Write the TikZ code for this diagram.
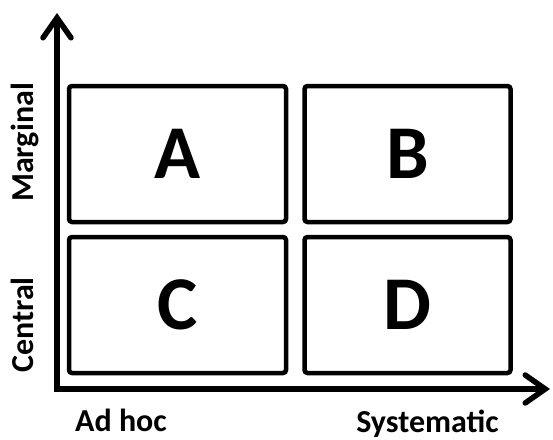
\documentclass[tikz,border=0pt]{standalone}
\usepackage{fontspec}
\setmainfont{Carlito}
\usetikzlibrary{arrows.meta}
\begin{document}
\begin{tikzpicture}[x=1pt,y=-1pt,
  cell/.style={draw=black,line width=4.5pt,rounded corners=3pt,inner sep=0pt,
    font=\fontsize{76}{78}\selectfont\bfseries},
  axislabel/.style={font=\fontsize{32}{34}\selectfont\bfseries,inner sep=0pt,anchor=base},
  axisline/.style={line width=5.5pt,line cap=round,line join=miter,
    {Straight Barb[length=20pt,width=28pt,line cap=round]}-{Straight Barb[length=20pt,width=28pt,line cap=round]}}]
\useasboundingbox (0,0) rectangle (553,439);
\node[cell,minimum width=217pt,minimum height=136pt] (A) at (177.5,154) {A};
\node[cell,minimum width=206pt,minimum height=136pt] (B) at (407.5,154) {B};
\node[cell,minimum width=217pt,minimum height=136pt] (C) at (177.5,305) {C};
\node[cell,minimum width=206pt,minimum height=136pt] (D) at (407.5,305) {D};
\coordinate (ytip) at (57,13);
\coordinate (origin) at (57,389);
\coordinate (xtip) at (550,389);
\draw[axisline] (ytip) -- (origin) -- (xtip);
\node[axislabel,rotate=90] (marg) at (33,142.5) {Marginal};
\node[axislabel,rotate=90] (cent) at (33,325) {Central};
\node[axislabel] (adhoc) at (121,431) {Ad hoc};
\node[axislabel] (sys) at (427.5,432) {Systematic};
\end{tikzpicture}
\end{document}
